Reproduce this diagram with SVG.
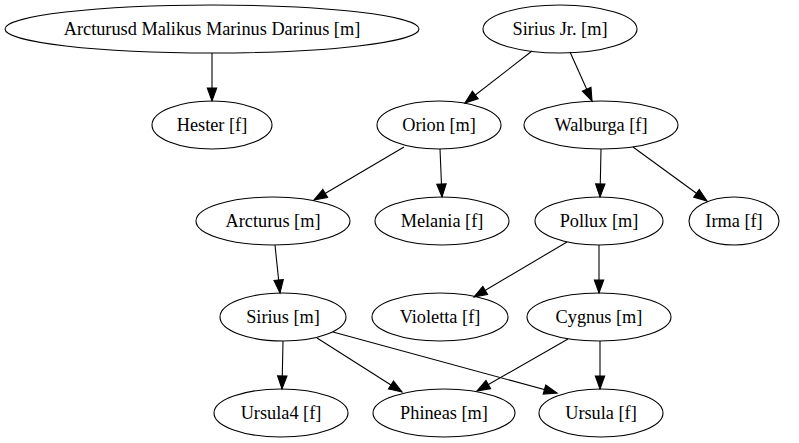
<svg xmlns="http://www.w3.org/2000/svg" width="799" height="443" viewBox="0 0 799 443">
<style>
.n ellipse{fill:none;stroke:#000;stroke-width:1.1}
.n text{font-family:"Liberation Serif","Times New Roman",serif;font-size:18.3px;text-anchor:middle;fill:#000}
#edges line{stroke:#000;stroke-width:1.1;marker-end:url(#ah)}
</style>
<defs>
<marker id="ah" markerUnits="userSpaceOnUse" markerWidth="14" markerHeight="10" refX="13" refY="4.7" orient="auto" viewBox="0 0 14 10" overflow="visible">
<path d="M0,0 L13,4.7 L0,9.4 z" fill="#000" stroke="#000" stroke-width="1.1"/>
</marker>
</defs>
<rect width="799" height="443" fill="#fff"/>
<g id="edges">
<line x1="212" y1="53" x2="212" y2="101"/>
<line x1="532" y1="51" x2="465" y2="103"/>
<line x1="570" y1="52" x2="592" y2="101"/>
<line x1="404" y1="147" x2="314" y2="200"/>
<line x1="440" y1="149" x2="442" y2="197"/>
<line x1="601" y1="149" x2="600" y2="197"/>
<line x1="633" y1="147" x2="707" y2="201"/>
<line x1="275" y1="245" x2="280" y2="293"/>
<line x1="567" y1="242" x2="474" y2="297"/>
<line x1="599" y1="245" x2="599" y2="293"/>
<line x1="283" y1="341" x2="282" y2="389"/>
<line x1="317" y1="338" x2="402" y2="392"/>
<line x1="333" y1="332" x2="557" y2="393"/>
<line x1="568" y1="339" x2="477" y2="391"/>
<line x1="600" y1="341" x2="600" y2="389"/>
</g>
<g id="arcturusd" class="n"><ellipse cx="212" cy="29" rx="207" ry="24"/><text x="212" y="35">Arcturusd Malikus Marinus Darinus [m]</text></g>
<g id="siriusjr" class="n"><ellipse cx="560" cy="29" rx="77" ry="24"/><text x="560" y="35">Sirius Jr. [m]</text></g>
<g id="hester" class="n"><ellipse cx="212" cy="125" rx="60" ry="24"/><text x="212" y="131">Hester [f]</text></g>
<g id="orion" class="n"><ellipse cx="439" cy="125" rx="62" ry="24"/><text x="439" y="131">Orion [m]</text></g>
<g id="walburga" class="n"><ellipse cx="601" cy="125" rx="77" ry="24"/><text x="601" y="131">Walburga [f]</text></g>
<g id="arcturus" class="n"><ellipse cx="273" cy="221" rx="77" ry="24"/><text x="273" y="227">Arcturus [m]</text></g>
<g id="melania" class="n"><ellipse cx="442" cy="221" rx="67" ry="24"/><text x="442" y="227">Melania [f]</text></g>
<g id="pollux" class="n"><ellipse cx="599" cy="221" rx="64" ry="24"/><text x="599" y="227">Pollux [m]</text></g>
<g id="irma" class="n"><ellipse cx="734" cy="221" rx="45" ry="24"/><text x="734" y="227">Irma [f]</text></g>
<g id="sirius" class="n"><ellipse cx="283" cy="317" rx="63" ry="24"/><text x="283" y="323">Sirius [m]</text></g>
<g id="violetta" class="n"><ellipse cx="440" cy="317" rx="68" ry="24"/><text x="440" y="323">Violetta [f]</text></g>
<g id="cygnus" class="n"><ellipse cx="599" cy="317" rx="72" ry="24"/><text x="599" y="323">Cygnus [m]</text></g>
<g id="ursula4" class="n"><ellipse cx="281" cy="413" rx="67" ry="24"/><text x="281" y="419">Ursula4 [f]</text></g>
<g id="phineas" class="n"><ellipse cx="444" cy="413" rx="71" ry="24"/><text x="444" y="419">Phineas [m]</text></g>
<g id="ursula" class="n"><ellipse cx="601" cy="413" rx="62" ry="24"/><text x="601" y="419">Ursula [f]</text></g>
</svg>
